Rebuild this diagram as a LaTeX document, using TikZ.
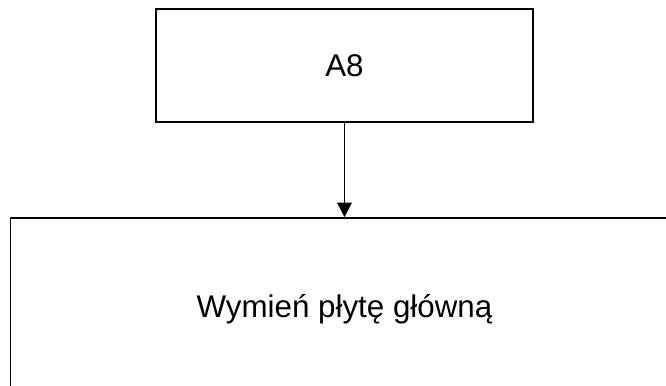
\documentclass[tikz,border=0pt]{standalone}
\usepackage{fontspec}
\setmainfont{Liberation Sans}
\usetikzlibrary{arrows.meta}
\tikzset{stepbox/.style={rectangle,draw,line width=1.2pt,inner sep=0pt,font=\fontsize{23.5}{28}\selectfont},
  arrow/.style={-{Triangle[length=11pt,width=11pt]},line width=1.2pt}}

\begin{document}
\begin{tikzpicture}[x=0.75pt,y=-0.75pt]
  \useasboundingbox (0,0) rectangle (666,385);
  \clip (0,0) rectangle (666,385);
  \node[stepbox,minimum width=282.75pt,minimum height=84.75pt] (a8) at (344.5,65.5) {A8};
  \node[stepbox,minimum width=501pt,minimum height=136.5pt] (plyta) at (344.5,309) {Wymień płytę główną};
  \draw[arrow] (a8.south) -- (plyta.north);
\end{tikzpicture}
\end{document}
